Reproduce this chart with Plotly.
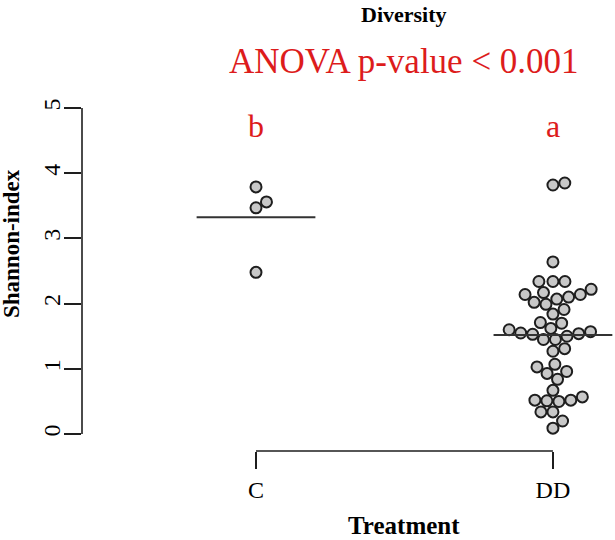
import math
import plotly.graph_objects as go

# ---------------- data ----------------
categories = ["C", "DD"]
c_values = [3.79, 3.56, 3.47, 2.48]
dd_values = [3.85, 3.82, 2.64, 2.34, 2.34, 2.34, 2.22, 2.17, 2.14, 2.14, 2.10,
             2.07, 2.02, 1.99, 1.91, 1.84, 1.71, 1.70, 1.62, 1.60, 1.57, 1.55,
             1.54, 1.53, 1.50, 1.45, 1.45, 1.31, 1.27, 1.07, 1.03, 0.96, 0.93,
             0.84, 0.67, 0.57, 0.52, 0.52, 0.51, 0.50, 0.34, 0.34, 0.20, 0.09]
group_letters = ["b", "a"]
y_ticks = [0, 1, 2, 3, 4, 5]
title_text = "Diversity"
anova_text = "ANOVA p-value < 0.001"

# ---------------- layout constants ----------------
W, H = 615, 540
M_L, M_R, M_T, M_B = 82, 0, 95, 89
X_RANGE = [-0.586, 1.209]
Y_RANGE = [-0.26, 5.2]
PLOT_W = W - M_L - M_R
PLOT_H = H - M_T - M_B
PPU_X = PLOT_W / (X_RANGE[1] - X_RANGE[0])
PPU_Y = PLOT_H / (Y_RANGE[1] - Y_RANGE[0])
DIAM = 12.0  # swarm spacing in px
RED = "#DD1C1C"
INK = "#1e1e1e"
SERIF = "Liberation Serif, Times New Roman, serif"


def swarm_offsets(values):
    """beeswarm 'swarm' method, ascending priority, both sides (px -> data)."""
    n = len(values)
    order = sorted(range(n), key=lambda i: values[i])
    placed = []
    offs = [0.0] * n
    for i in order:
        y = values[i] * PPU_Y
        hits = [(px, py) for (px, py) in placed if abs(py - y) < DIAM]
        cands = [0.0]
        cands += [px + math.sqrt(DIAM ** 2 - (py - y) ** 2) for px, py in hits]
        cands += [px - math.sqrt(DIAM ** 2 - (py - y) ** 2) for px, py in hits]
        ok = [c for c in cands
              if all((c - px) ** 2 + (y - py) ** 2 >= DIAM ** 2 * 0.999 for px, py in hits)]
        best = min(ok, key=abs)
        placed.append((best, y))
        offs[i] = best / PPU_X
    return offs


def py_to_paper(py):
    return (H - M_B - py) / PLOT_H


def px_to_paper(px):
    return (px - M_L) / PLOT_W


fig = go.Figure()
groups = [c_values, dd_values]
for gi, vals in enumerate(groups):
    offs = swarm_offsets(vals)
    fig.add_trace(go.Scatter(
        x=[gi + o for o in offs], y=vals, mode="markers",
        marker=dict(size=11, color="#c8c8c8", line=dict(color=INK, width=2)),
        showlegend=False, hoverinfo="y"))
    m = sum(vals) / len(vals)
    fig.add_trace(go.Scatter(
        x=[gi - 0.2, gi + 0.2], y=[m, m], mode="lines",
        line=dict(color="#333333", width=2), showlegend=False, hoverinfo="skip"))

shapes = [
    dict(type="line", xref="x", yref="paper", x0=0, x1=len(categories) - 1, y0=0, y1=0,
         line=dict(color=INK, width=1.6)),
    dict(type="line", xref="paper", yref="y", x0=0, x1=0, y0=y_ticks[0], y1=y_ticks[-1],
         line=dict(color=INK, width=1.6)),
]

annotations = [
    dict(text="<b>" + title_text + "</b>", x=0.5, xref="x", y=py_to_paper(15), yref="paper",
         showarrow=False, font=dict(family=SERIF, size=22, color="black"), yanchor="middle"),
    dict(text=anova_text, x=0.5, xref="x", y=py_to_paper(61), yref="paper",
         showarrow=False, font=dict(family=SERIF, size=35, color=RED), yanchor="middle"),
    dict(text="<b>Treatment</b>", x=0.5, xref="x", y=py_to_paper(525), yref="paper",
         showarrow=False, font=dict(family=SERIF, size=25, color="black"), yanchor="middle",
         borderpad=0),
    dict(text="<b>Shannon-index</b>", x=px_to_paper(11), xref="paper", y=py_to_paper(244),
         yref="paper", textangle=-90, showarrow=False,
         font=dict(family=SERIF, size=23, color="black"), xanchor="center", yanchor="middle"),
]
for gi, letter in enumerate(group_letters):
    annotations.append(dict(text=letter, x=gi, xref="x", y=py_to_paper(126), yref="paper",
                            showarrow=False, font=dict(family=SERIF, size=32, color=RED),
                            yanchor="middle"))

fig.update_layout(
    width=W, height=H, margin=dict(l=M_L, r=M_R, t=M_T, b=M_B),
    paper_bgcolor="white", plot_bgcolor="white",
    shapes=shapes, annotations=annotations,
    xaxis=dict(range=X_RANGE, tickvals=list(range(len(categories))), ticktext=categories,
               ticks="outside", ticklen=17, tickwidth=1.6, tickcolor=INK,
               showline=False, showgrid=False, zeroline=False,
               tickfont=dict(family=SERIF, size=24, color="black")),
    yaxis=dict(range=Y_RANGE, tickvals=y_ticks, ticks="outside", ticklen=17,
               tickwidth=1.6, tickcolor=INK, tickangle=-90, ticklabelstandoff=-6,
               showline=False, showgrid=False, zeroline=False,
               tickfont=dict(family=SERIF, size=24, color="black")),
)

fig.write_html("out.html", config={"displayModeBar": False},
               post_script="document.body.style.margin='0';")
